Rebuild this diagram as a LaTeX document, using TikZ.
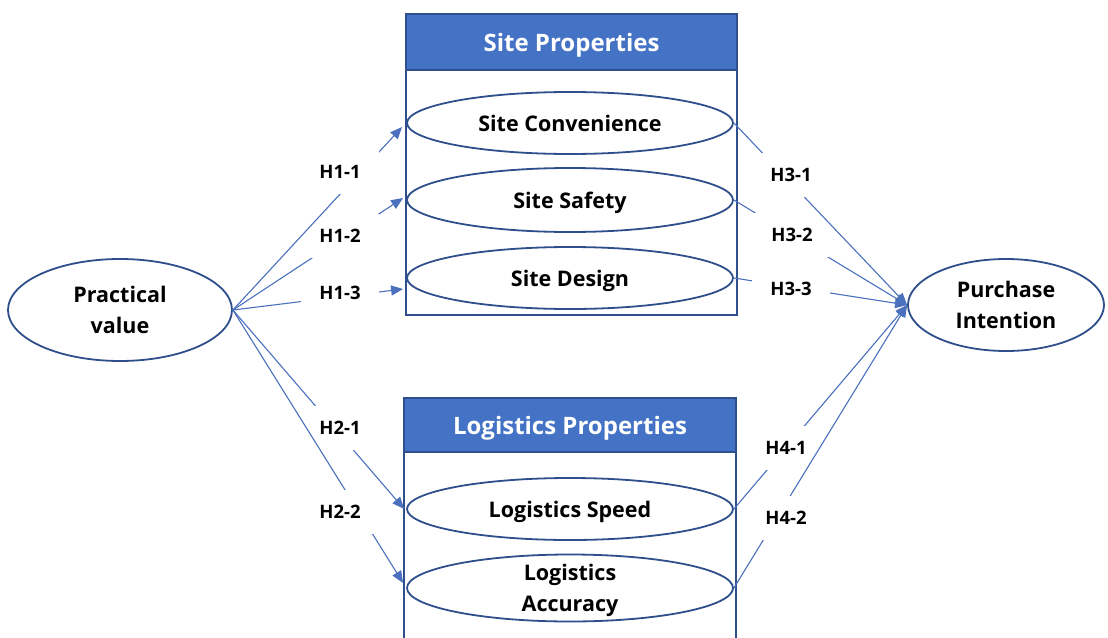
\documentclass[tikz,border=0pt]{standalone}
\usepackage{fontspec}
\setmainfont{Open Sans}
\usetikzlibrary{shapes.geometric,arrows.meta}

\definecolor{linkblue}{RGB}{74,112,190}
\definecolor{rimblue}{RGB}{47,78,140}
\definecolor{headblue}{RGB}{68,114,196}

\begin{document}
\begin{tikzpicture}[x=1pt,y=-1pt,
  construct/.style={ellipse, draw=rimblue, line width=1.8pt, fill=white,
    inner sep=0pt, align=center, text depth=0pt,
    font=\fontsize{21.5}{31}\selectfont\bfseries},
  groupbox/.style={draw=rimblue, line width=1.8pt, inner sep=0pt},
  groupheader/.style={draw=rimblue, fill=headblue, line width=1.8pt,
    inner sep=0pt, text=white, text depth=0pt,
    font=\fontsize{24}{28}\selectfont\bfseries},
  link/.style={draw=linkblue, line width=1.1pt,
    -{Triangle[length=12pt,width=10pt]}},
  hyp/.style={fill=white, inner sep=0pt, minimum width=78pt,
    minimum height=44pt, font=\fontsize{18.5}{22}\selectfont\bfseries}
]
\useasboundingbox (0,0) rectangle (1108,637);

% outer constructs
\node[construct, minimum width=224pt, minimum height=102pt] (pv) at (120,310) {Practical\\value};
\node[construct, minimum width=196pt, minimum height=92pt] (pi) at (1006,305) {Purchase\\Intention};

% site properties group
\node[groupbox, minimum width=331pt, minimum height=301pt] (sitebox) at (571.5,164.5) {};
\node[groupheader, minimum width=331pt, minimum height=56pt] (sitehead) at (571.5,42) {Site Properties};
\node[construct, minimum width=326pt, minimum height=62pt] (sc) at (570,123) {Site Convenience};
\node[construct, minimum width=326pt, minimum height=64pt] (ss) at (570,200) {Site Safety};
\node[construct, minimum width=326pt, minimum height=62pt] (sd) at (570,278) {Site Design};

% logistics properties group
\node[groupbox, minimum width=332pt, minimum height=262pt] (logbox) at (570,529) {};
\node[groupheader, minimum width=332pt, minimum height=54pt] (loghead) at (570,425) {Logistics Properties};
\node[construct, minimum width=326pt, minimum height=62pt] (ls) at (570,509) {Logistics Speed};
\node[construct, minimum width=326pt, minimum height=67pt] (la) at (570,588) {Logistics\\Accuracy};

% H1: practical value -> site properties
\draw[link] (pv.east) -- ([xshift=-3pt,yshift=-11pt]sd.west);
\node[hyp] (h13) at (340,293) {H1-3};
\draw[link] (pv.east) -- ([xshift=-3pt,yshift=2pt]ss.west);
\node[hyp] (h12) at (340,236) {H1-2};
\draw[link] (pv.east) -- ([xshift=-4pt,yshift=-4pt]sc.west);
\node[hyp] (h11) at (340,171.5) {H1-1};

% H2: practical value -> logistics properties
\draw[link] (pv.east) -- ([xshift=-2pt]ls.west);
\node[hyp] (h21) at (340,428) {H2-1};
\draw[link] (pv.east) -- ([xshift=-3pt,yshift=5pt]la.west);
\node[hyp] (h22) at (340,512) {H2-2};

% H3: site properties -> purchase intention
\draw[link] (sd.east) -- (pi.west);
\node[hyp] (h33) at (791,289) {H3-3};
\draw[link] (ss.east) -- (pi.west);
\node[hyp] (h32) at (792,235) {H3-2};
\draw[link] (sc.east) -- (pi.west);
\node[hyp] (h31) at (791,174.5) {H3-1};

% H4: logistics properties -> purchase intention
\draw[link] (ls.east) -- (pi.west);
\node[hyp] (h41) at (786,448) {H4-1};
\draw[link] (la.east) -- (pi.west);
\node[hyp] (h42) at (786,518) {H4-2};
\end{tikzpicture}
\end{document}
